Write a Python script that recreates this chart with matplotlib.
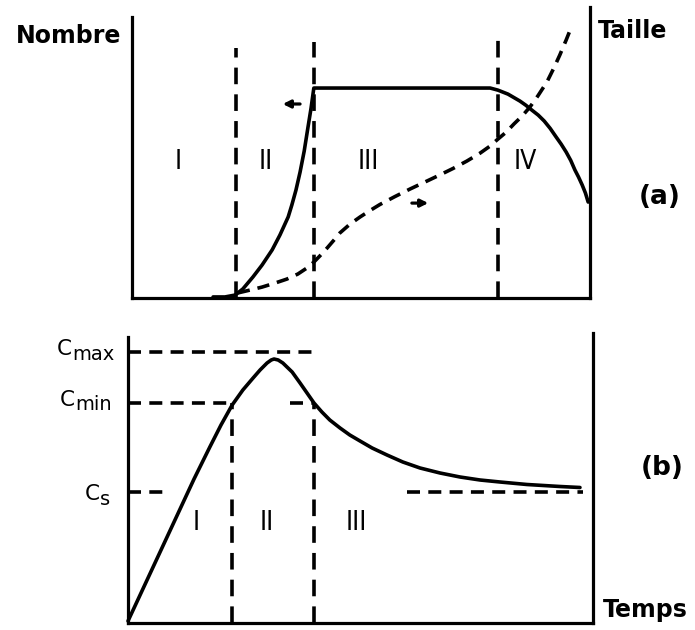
import numpy as np
import matplotlib.pyplot as plt

# --- (a) nombre / taille des particules en fonction du temps ---
t_nombre = [1.77, 2.03, 2.25, 2.42, 2.64, 2.84, 3.06, 3.23, 3.41, 3.49, 3.58, 3.67,
            3.76, 3.84, 3.91, 3.97,
            7.82, 7.99, 8.21, 8.47, 8.60, 8.73, 8.87, 9.00, 9.13, 9.26, 9.37, 9.48,
            9.58, 9.67, 9.75, 9.83, 9.90, 9.96]
nombre = [0.005, 0.005, 0.014, 0.043, 0.100, 0.157, 0.229, 0.300, 0.386, 0.443, 0.514, 0.600,
          0.700, 0.810, 0.905, 1.0,
          1.0, 0.990, 0.971, 0.938, 0.918, 0.895, 0.871, 0.843, 0.808, 0.767, 0.733, 0.695,
          0.655, 0.610, 0.576, 0.538, 0.500, 0.457]

t_taille = [2.31, 2.58, 2.84, 3.12, 3.38, 3.62, 3.82, 3.97, 4.10, 4.26, 4.41, 4.54,
            4.76, 4.98, 5.20, 5.41, 5.74, 6.07, 6.44, 6.72, 7.01, 7.31, 7.60, 7.82,
            7.99, 8.17, 8.34, 8.52, 8.69, 8.86, 9.06, 9.21, 9.34, 9.48, 9.61]
taille = [0.024, 0.038, 0.052, 0.071, 0.090, 0.114, 0.143, 0.171, 0.200, 0.238, 0.276, 0.310,
          0.352, 0.386, 0.417, 0.445, 0.483, 0.519, 0.557, 0.586, 0.617, 0.652, 0.690, 0.724,
          0.757, 0.790, 0.829, 0.867, 0.910, 0.962, 1.029, 1.095, 1.157, 1.229, 1.300]

limites_a = [2.27, 3.97, 7.99]
hauteurs_a = [1.19, 1.22, 1.26]
etapes_a = ['I', 'II', 'III', 'IV']
pos_etapes_a = [1.0, 2.93, 5.15, 8.58]

# --- (b) concentration en fonction du temps ---
t_conc = [0.0, 0.5, 1.0, 1.42, 1.76, 2.00, 2.24, 2.47, 2.69, 2.84, 2.99, 3.08, 3.14,
          3.23, 3.33, 3.53, 3.70, 3.85, 4.00, 4.17, 4.34, 4.56, 4.77, 4.99, 5.25,
          5.57, 5.91, 6.28, 6.71, 7.14, 7.57, 8.00, 8.58, 9.29, 9.72]
conc = [0.02, 0.52, 1.02, 1.44, 1.76, 1.98, 2.18, 2.33, 2.45, 2.53, 2.60, 2.63, 2.64,
        2.63, 2.60, 2.51, 2.40, 2.30, 2.20, 2.11, 2.03, 1.95, 1.88, 1.82, 1.75,
        1.68, 1.61, 1.55, 1.50, 1.46, 1.43, 1.41, 1.385, 1.365, 1.355]

c_max, c_min, c_s = 2.71, 2.20, 1.31
limites_b = [2.24, 4.00]
etapes_b = ['I', 'II', 'III']
pos_etapes_b = [1.46, 2.99, 4.92]

W, H = 695, 630
fig = plt.figure(figsize=(W / 100, H / 100), dpi=100)

lw_axe = 2.3
lw_courbe = 2.6
tirets_v = (4.6, 2.8)
tirets_h = (3.6, 2.3)
police = 'DejaVu Sans'


def style_axes(ax, top_left, top_right):
    ax.set_xticks([])
    ax.set_yticks([])
    ax.spines['top'].set_visible(False)
    for s in ['left', 'right', 'bottom']:
        ax.spines[s].set_linewidth(lw_axe)
        ax.spines[s].set_capstyle('projecting')
    ax.spines['left'].set_bounds(0, top_left)
    ax.spines['right'].set_bounds(0, top_right)
    ax.patch.set_alpha(0)


# panneau (a)
ax1 = fig.add_axes([132 / W, 1 - 298 / H, (590 - 132) / W, (298 - 7) / H])
ax1.set_xlim(0, 10)
ax1.set_ylim(0, 1.386)
style_axes(ax1, 1.338, 1.386)

ax1.plot(t_nombre, nombre, color='k', lw=lw_courbe, solid_joinstyle='round',
         solid_capstyle='round', clip_on=False)
ax1.plot(t_taille, taille, color='k', lw=lw_courbe, linestyle=(0, (3.4, 2.2)),
         clip_on=False)
for x, h in zip(limites_a, hauteurs_a):
    ax1.plot([x, x], [0, h], color='k', lw=lw_courbe, linestyle=(0, tirets_v))
for x, lab in zip(pos_etapes_a, etapes_a):
    ax1.text(x, 0.648, lab, ha='center', va='center', fontsize=19,
             family=police, fontstretch='condensed')

ax1.annotate('', xy=(3.23, 0.924), xytext=(3.73, 0.924),
             arrowprops=dict(arrowstyle='-|>', lw=2.3, color='k', mutation_scale=11))
ax1.annotate('', xy=(6.53, 0.452), xytext=(6.05, 0.452),
             arrowprops=dict(arrowstyle='-|>', lw=2.3, color='k', mutation_scale=11))

# panneau (b)
ax2 = fig.add_axes([128 / W, 1 - 623 / H, (593 - 128) / W, (623 - 333) / H])
ax2.set_xlim(0, 10)
ax2.set_ylim(0, 2.90)
style_axes(ax2, 2.86, 2.90)

ax2.plot(t_conc, conc, color='k', lw=lw_courbe, solid_joinstyle='round',
         solid_capstyle='round', clip_on=False)
ax2.plot([0, 4.06], [c_max, c_max], color='k', lw=lw_courbe, linestyle=(0, tirets_h))
ax2.plot([0, limites_b[0]], [c_min, c_min], color='k', lw=lw_courbe, linestyle=(0, tirets_h))
ax2.plot([3.48, limites_b[1]], [c_min, c_min], color='k', lw=lw_courbe, linestyle=(0, tirets_h))
ax2.plot([0, 0.75], [c_s, c_s], color='k', lw=lw_courbe, linestyle=(0, tirets_h))
ax2.plot([6.0, 9.78], [c_s, c_s], color='k', lw=lw_courbe, linestyle=(0, tirets_h))
for x in limites_b:
    ax2.plot([x, x], [0, c_min], color='k', lw=lw_courbe, linestyle=(0, tirets_v))
for x, lab in zip(pos_etapes_b, etapes_b):
    ax2.text(x, 1.0, lab, ha='center', va='center', fontsize=19,
             family=police, fontstretch='condensed')

# textes
kw = dict(fontsize=17, fontweight='bold', family=police)
fig.text(69 / W, 1 - 36 / H, 'Nombre', ha='center', va='center', **kw)
fig.text(633 / W, 1 - 31 / H, 'Taille', ha='center', va='center', **kw)
fig.text(660 / W, 1 - 197 / H, '(a)', ha='center', va='center', fontsize=19,
         fontweight='bold', family=police)
fig.text(662 / W, 1 - 468 / H, '(b)', ha='center', va='center', fontsize=19,
         fontweight='bold', family=police)
fig.text(645 / W, 1 - 610 / H, 'Temps', ha='center', va='center', **kw)

# C_max, C_min, C_s : lettre + indice
etiquettes_c = [('C', 'max', 57, 355, 72, 360),
                ('C', 'min', 60, 406, 75, 410),
                ('C', 's', 85, 500, 100, 505)]
for lettre, indice, xl, yl, xi, yi in etiquettes_c:
    fig.text(xl / W, 1 - yl / H, lettre, fontsize=15.5, family=police,
             ha='left', va='baseline')
    fig.text(xi / W, 1 - yi / H, indice, fontsize=14, family=police,
             ha='left', va='baseline')

fig.savefig('out.png', dpi=100)
